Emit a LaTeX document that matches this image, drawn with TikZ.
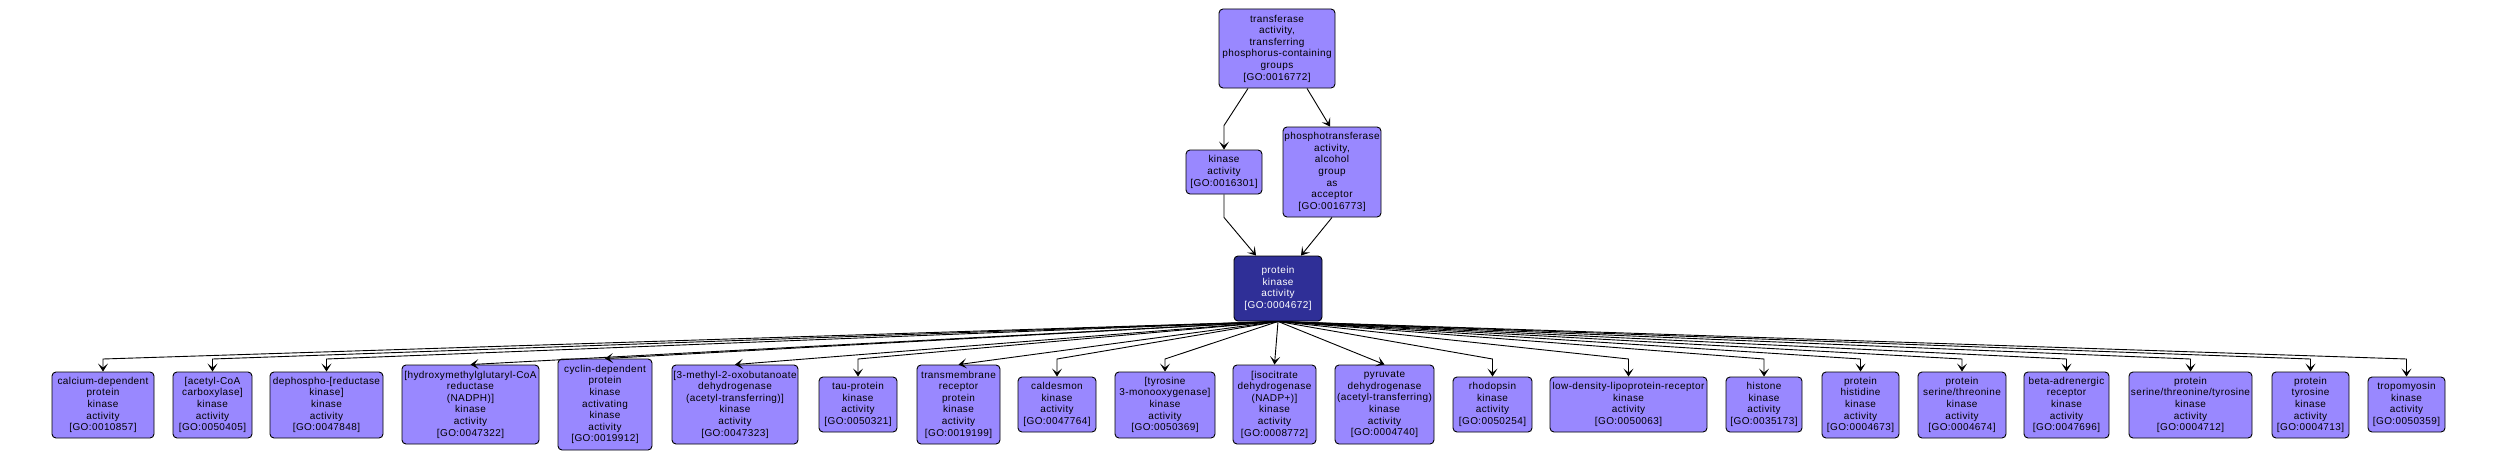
\documentclass[tikz,border=0pt]{standalone}
\usepackage{fontspec}
\setmainfont{Liberation Sans}[LetterSpace=4.0]
\usetikzlibrary{arrows.meta}
\definecolor{golight}{RGB}{153,136,255}
\definecolor{godark}{RGB}{47,47,151}
\tikzset{
  term/.style={draw=black, line width=0.9pt, fill=golight, rounded corners=4pt,
    align=center, inner sep=0pt, font=\fontsize{10}{11.6}\selectfont,
    minimum width=#1},
  focus/.style={term=#1, fill=godark, text=white},
  edge/.style={line width=0.9pt, -{Stealth[length=8pt,width=10pt,inset=4pt]}},
}
\begin{document}
\begin{tikzpicture}[x=1pt,y=-1pt]
\useasboundingbox (0,0) rectangle (2499,460);
% upper part
\node[term=116pt, minimum height=79pt] (top) at (1277,48.5) {transferase\\activity,\\transferring\\phosphorus-containing\\groups\\{}[GO:0016772]};
\node[term=76pt, minimum height=44pt] (kin) at (1224,172) {kinase\\activity\\{}[GO:0016301]};
\node[term=98pt, minimum height=90pt] (phos) at (1332,172) {phosphotransferase\\activity,\\alcohol\\group\\as\\acceptor\\{}[GO:0016773]};
\node[focus=88pt, minimum height=65pt] (pk) at (1278,288.5) {protein\\kinase\\activity\\{}[GO:0004672]};
% lower row
\node[term=102pt, minimum height=66pt] (n1) at (103,405) {calcium-dependent\\protein\\kinase\\activity\\{}[GO:0010857]};
\node[term=79pt, minimum height=66pt] (n2) at (212.5,405) {{}[acetyl-CoA\\carboxylase]\\kinase\\activity\\{}[GO:0050405]};
\node[term=113pt, minimum height=66pt] (n3) at (326.5,405) {dephospho-[reductase\\kinase]\\kinase\\activity\\{}[GO:0047848]};
\node[term=137pt, minimum height=79pt] (n4) at (470.5,404.5) {{}[hydroxymethylglutaryl-CoA\\reductase\\(NADPH)]\\kinase\\activity\\{}[GO:0047322]};
\node[term=94pt, minimum height=91pt] (n5) at (605,404.5) {cyclin-dependent\\protein\\kinase\\activating\\kinase\\activity\\{}[GO:0019912]};
\node[term=126pt, minimum height=79pt] (n6) at (735,404.5) {{}[3-methyl-2-oxobutanoate\\dehydrogenase\\(acetyl-transferring)]\\kinase\\activity\\{}[GO:0047323]};
\node[term=78pt, minimum height=55pt] (n7) at (858,404.5) {tau-protein\\kinase\\activity\\{}[GO:0050321]};
\node[term=83pt, minimum height=79pt] (n8) at (958.5,404.5) {transmembrane\\receptor\\protein\\kinase\\activity\\{}[GO:0019199]};
\node[term=78pt, minimum height=55pt] (n9) at (1057,404.5) {caldesmon\\kinase\\activity\\{}[GO:0047764]};
\node[term=100pt, minimum height=66pt] (n10) at (1165,405) {{}[tyrosine\\3-monooxygenase]\\kinase\\activity\\{}[GO:0050369]};
\node[term=83pt, minimum height=79pt] (n11) at (1274.5,404.5) {{}[isocitrate\\dehydrogenase\\(NADP+)]\\kinase\\activity\\{}[GO:0008772]};
\node[term=99pt, minimum height=79pt] (n12) at (1384.5,404.5) {pyruvate\\dehydrogenase\\(acetyl-transferring)\\kinase\\activity\\{}[GO:0004740]};
\node[term=79pt, minimum height=55pt] (n13) at (1492.5,404.5) {rhodopsin\\kinase\\activity\\{}[GO:0050254]};
\node[term=157pt, minimum height=55pt] (n14) at (1628.5,404.5) {low-density-lipoprotein-receptor\\kinase\\activity\\{}[GO:0050063]};
\node[term=76pt, minimum height=55pt] (n15) at (1764,404.5) {histone\\kinase\\activity\\{}[GO:0035173]};
\node[term=77pt, minimum height=66pt] (n16) at (1860.5,405) {protein\\histidine\\kinase\\activity\\{}[GO:0004673]};
\node[term=88pt, minimum height=66pt] (n17) at (1962,405) {protein\\serine/threonine\\kinase\\activity\\{}[GO:0004674]};
\node[term=85pt, minimum height=66pt] (n18) at (2066.5,405) {beta-adrenergic\\receptor\\kinase\\activity\\{}[GO:0047696]};
\node[term=123pt, minimum height=66pt] (n19) at (2190.5,405) {protein\\serine/threonine/tyrosine\\kinase\\activity\\{}[GO:0004712]};
\node[term=77pt, minimum height=66pt] (n20) at (2310.5,405) {protein\\tyrosine\\kinase\\activity\\{}[GO:0004713]};
\node[term=77pt, minimum height=55pt] (n21) at (2406.5,404.5) {tropomyosin\\kinase\\activity\\{}[GO:0050359]};
\coordinate (bend) at (0,359);
% upper edges
\draw[edge] ([xshift=-29pt]top.south) -- ([yshift=24pt]kin.north) -- (kin.north);
\draw[edge] ([xshift=30pt]top.south) -- ([xshift=-2pt]phos.north);
\draw[edge] (kin.south) -- ([yshift=-23pt]kin.south) -- ([xshift=-22pt]pk.north);
\draw[edge] (phos.south) -- ([xshift=23pt]pk.north);
% fan edges with bend
\foreach \t in {n1,n2,n3,n7,n9,n10,n13,n14,n15,n16,n17,n18,n19,n20,n21}{
  \draw[edge] (pk.south) -- (\t.north |- bend) -- (\t.north);
}
% direct fan edges
\foreach \t in {n4,n5,n6,n8,n11,n12}{
  \draw[edge] (pk.south) -- (\t.north);
}
\end{tikzpicture}
\end{document}
